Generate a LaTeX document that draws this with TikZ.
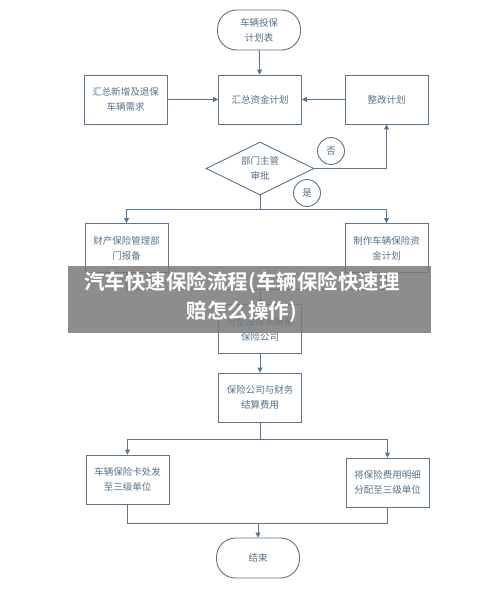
\documentclass[tikz,border=0pt]{standalone}
\usepackage{fontspec}
\setmainfont{Noto Sans CJK SC}
\newfontfamily\cjkbold{Noto Sans CJK SC Bold}
\usetikzlibrary{shapes.geometric,arrows.meta}
\definecolor{linec}{HTML}{5E748A}
\definecolor{textc}{HTML}{56718C}
\definecolor{banner}{HTML}{7A7A7A}
\tikzset{
  box/.style={draw=linec, line width=0.9pt, minimum width=83pt, minimum height=49pt, text width=78pt, align=center, font=\fontsize{9.5}{15}\selectfont, text=textc, inner sep=1pt},
  term/.style={box, rounded corners=19pt, minimum height=40pt},
  decision/.style={draw=linec, line width=0.9pt, diamond, aspect=2.05, minimum width=108pt, minimum height=53pt, inner sep=0pt, align=center, font=\fontsize{9.5}{15}\selectfont, text=textc},
  tag/.style={draw=linec, line width=0.9pt, circle, minimum size=27pt, inner sep=0pt, font=\fontsize{9.5}{12}\selectfont, text=textc},
  conn/.style={draw=linec, line width=0.9pt},
  arr/.style={conn, -{Triangle[length=5pt,width=5pt]}},
}
\begin{document}
\begin{tikzpicture}[x=1pt,y=-1pt]
\useasboundingbox (0,0) rectangle (500,600);
\fill[white] (0,0) rectangle (500,600);

\node[term] (plan) at (259,30) {车辆投保\\计划表};
\node[box] (sum) at (260,99.5) {汇总资金计划};
\node[box] (need) at (125.5,99.5) {汇总新增及退保\\车辆需求};
\node[box] (fix) at (386.5,99.5) {整改计划};
\node[decision] (dec) at (260,168.5) {部门主管\\审批};
\node[tag] (no) at (331,151) {否};
\node[tag] (yes) at (307,193) {是};
\node[box] (report) at (126.5,248) {财产保险管理部\\门报备};
\node[box] (make) at (386.5,248) {制作车辆保险资\\金计划};
\node[box] (assign) at (260,329) {分配投保车辆至\\保险公司};
\node[box] (settle) at (260,397.5) {保险公司与财务\\结算费用};
\node[box] (card) at (127.5,479.5) {车辆保险卡处发\\至三级单位};
\node[box] (detail) at (387.5,482.5) {将保险费用明细\\分配至三级单位};
\node[term] (end) at (258,558) {结束};

\coordinate (ysplit) at (260,209.5);
\coordinate (ymerge) at (260,289);
\coordinate (ssplit) at (260,439);
\coordinate (emerge) at (258,523);

\draw[arr] (plan) -- (sum);
\draw[arr] (need) -- (sum);
\draw[arr] (fix) -- (sum);
\draw[arr] (dec.east) -| (fix.south);
\draw[conn] (dec.south) -- (ysplit);
\draw[arr] (ysplit) -| (report.north);
\draw[arr] (ysplit) -| (make.north);
\draw[conn] (report.south) |- (ymerge);
\draw[conn] (make.south) |- (ymerge);
\draw[arr] (ymerge) -- (assign.north);
\draw[arr] (assign) -- (settle);
\draw[conn] (settle.south) -- (ssplit);
\draw[arr] (ssplit) -| (card.north);
\draw[arr] (ssplit) -| (detail.north);
\draw[conn] (card.south) |- (emerge);
\draw[conn] (detail.south) |- (emerge);
\draw[arr] (emerge) -- (end.north);

\fill[banner, opacity=0.85] (68,266) rectangle (431,333);
\node[text=white, align=center, font=\cjkbold\fontsize{20.5}{29}\selectfont] (title) at (242,297.5) {汽车快速保险流程(车辆保险快速理\\赔怎么操作)};
\end{tikzpicture}
\end{document}
